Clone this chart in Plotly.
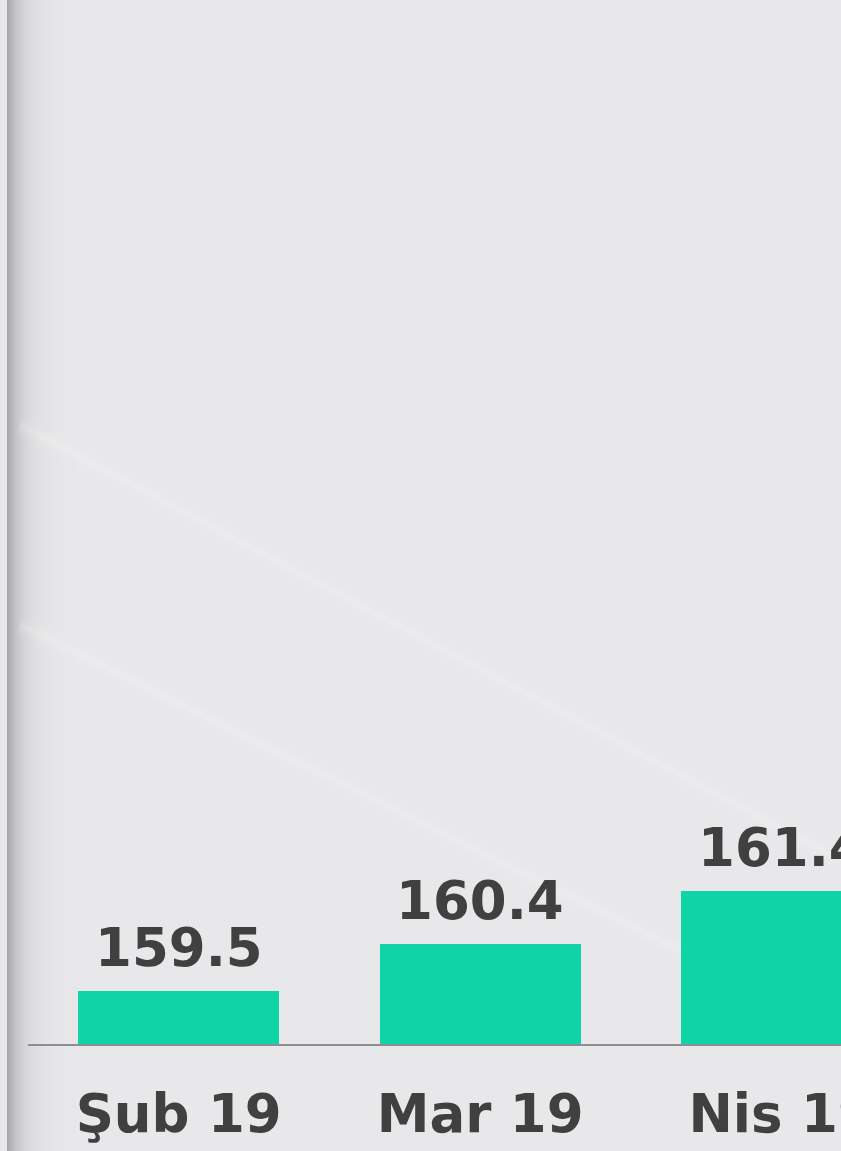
import plotly.graph_objects as go
import math

categories = ["Şub 19", "Mar 19", "Nis 19"]
values = [159.5, 160.4, 161.4]
value_labels = ["159.5", "160.4", "161.4"]

BAR_COLOR = "#0ed4a8"
TEXT_COLOR = "#404040"
BG = "#e8e8ea"
FONT = dict(family="DejaVu Sans", size=53, color=TEXT_COLOR, weight="bold")

W, H = 841, 1151
ML, MR, MT, MB = 28, 0, 0, 107
PW = W - ML - MR
PH = H - MT - MB

xpos = list(range(len(categories)))

fig = go.Figure()
fig.add_trace(go.Bar(
    x=xpos, y=values, width=0.667,
    marker=dict(color=BAR_COLOR, line=dict(width=0)),
    hoverinfo="skip", showlegend=False,
))

for x, v, t in zip(xpos, values, value_labels):
    fig.add_annotation(x=x, y=v, text=t, showarrow=False, yanchor="bottom",
                       xanchor="center", yshift=11, font=FONT)

shapes = []


def px2paper(px):
    return (px - ML) / PW


# left shadow band (decoration)
dark = (166, 166, 170)
light = (232, 232, 234)
for i in range(0, 80):
    xpx = 7 + i
    f = 1 - math.exp(-i / 14.0)
    c = tuple(int(round(d + (l - d) * f)) for d, l in zip(dark, light))
    shapes.append(dict(type="rect", xref="paper", yref="paper",
                       x0=px2paper(xpx), x1=px2paper(xpx + 1.2), y0=-MB / PH, y1=1.0,
                       fillcolor="rgb(%d,%d,%d)" % c, line=dict(width=0), layer="below"))
# faint diagonal light streaks (decoration)
for (x0, y0, x1, y1) in [(20, 425, 841, 860), (20, 625, 700, 960)]:
    for w, op in [(18, 0.06), (10, 0.08), (4, 0.1)]:
        shapes.append(dict(type="line", xref="paper", yref="paper",
                           x0=px2paper(x0), x1=px2paper(x1),
                           y0=1 - y0 / PH, y1=1 - y1 / PH,
                           line=dict(color="rgba(255,255,255,%s)" % op, width=w), layer="below"))

fig.update_layout(
    width=W, height=H,
    margin=dict(l=ML, r=MR, t=MT, b=MB, pad=0, autoexpand=False),
    paper_bgcolor=BG, plot_bgcolor="rgba(0,0,0,0)",
    shapes=shapes,
    bargap=0,
    xaxis=dict(range=[-0.5, 2.197], tickmode="array", tickvals=xpos, ticktext=categories,
               tickfont=FONT, showgrid=False, zeroline=False, showline=True,
               linecolor="#8e8e8e", linewidth=2, ticks="", ticklabelstandoff=22,
               ticklabeloverflow="allow", automargin=False, fixedrange=True),
    yaxis=dict(range=[158.5, 178.34], visible=False, showgrid=False, zeroline=False,
               automargin=False, fixedrange=True),
)

fig.write_html("out.html", config={"displayModeBar": False},
               post_script="document.body.style.margin='0';document.body.style.overflow='hidden';")
